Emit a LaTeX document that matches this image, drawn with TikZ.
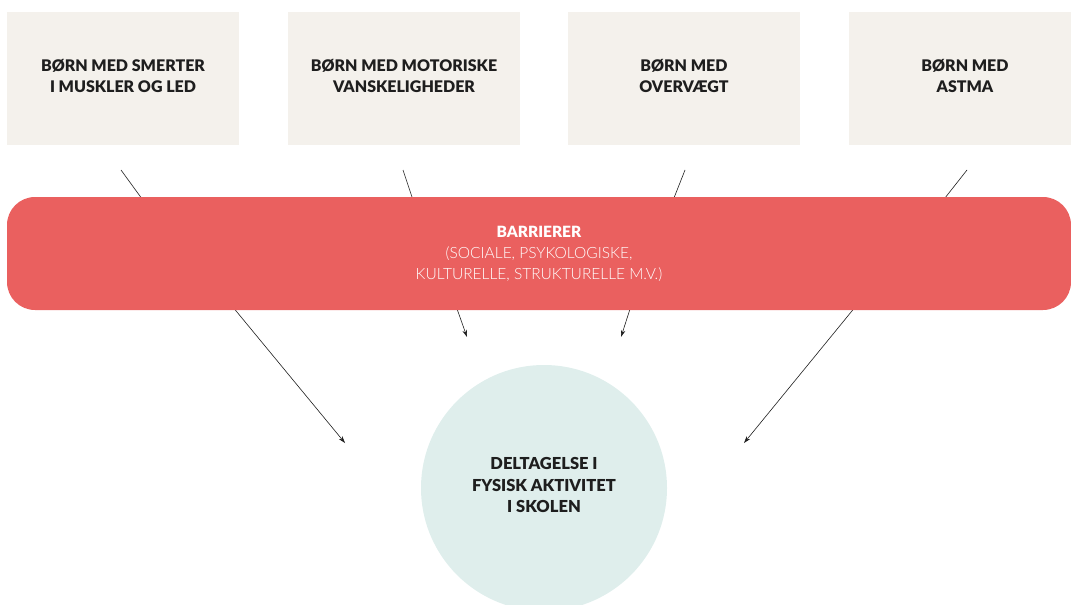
\documentclass[tikz,border=0pt]{standalone}
\usepackage{fontspec}
\setmainfont{Lato}
\newfontfamily\heavyfont{Lato Black}
\newfontfamily\lightfont{Lato Light}
\usetikzlibrary{arrows.meta}
\definecolor{boxfill}{HTML}{F4F1EC}
\definecolor{barfill}{HTML}{EA605F}
\definecolor{circfill}{HTML}{DFEEEC}
\definecolor{ink}{HTML}{1E1E1E}
\tikzset{
  groupbox/.style={fill=boxfill, draw=none, minimum width=232pt, minimum height=133pt,
    inner sep=0pt},
  boxtext/.style={align=center, text=ink, inner sep=0pt, yshift=3pt,
    font=\fontsize{16}{21}\selectfont\heavyfont},
  barbox/.style={fill=barfill, draw=none, rounded corners=28pt, minimum width=1064pt,
    minimum height=113pt, inner sep=0pt, align=center, text=white,
    font=\fontsize{15.5}{21}\selectfont\lightfont},
  goal/.style={circle, fill=circfill, draw=none, minimum size=246pt, inner sep=0pt},
  goaltext/.style={align=center, text=ink, inner sep=0pt, yshift=3pt,
    font=\fontsize{16.5}{21.5}\selectfont\heavyfont},
  conn/.style={draw=ink, line width=0.6pt},
  arr/.style={conn, -{Stealth[length=7pt,width=4.5pt]}}
}
\begin{document}
\begin{tikzpicture}[x=1pt,y=-1pt]
\useasboundingbox (0,0) rectangle (1071,605);
% top boxes
\node[groupbox, label={[name=b1t, boxtext]center:BØRN MED SMERTER\\I MUSKLER OG LED}] (b1) at (123,78.5) {};
\node[groupbox, label={[name=b2t, boxtext]center:BØRN MED MOTORISKE\\VANSKELIGHEDER}] (b2) at (404,78.5) {};
\node[groupbox, label={[name=b3t, boxtext]center:BØRN MED\\OVERVÆGT}] (b3) at (684,78.5) {};
\node[groupbox, label={[name=b4t, boxtext]center:BØRN MED\\ASTMA}] (b4) at (965,78.5) {};
% lines from boxes to barrier (drawn first, barrier covers ends)
\coordinate (s1) at (121,170); \coordinate (e1) at (145,203);
\coordinate (s2) at (403,170); \coordinate (e2) at (414,203);
\coordinate (s3) at (685,170); \coordinate (e3) at (672,203);
\coordinate (s4) at (967,170); \coordinate (e4) at (941,203);
\draw[conn] (s1) -- (e1);
\draw[conn] (s2) -- (e2);
\draw[conn] (s3) -- (e3);
\draw[conn] (s4) -- (e4);
% goal circle
\node[goal, label={[name=gt, goaltext]center:DELTAGELSE I\\FYSISK AKTIVITET\\I SKOLEN}] (g) at (544,488) {};
% arrows from barrier
\coordinate (f1) at (232,306); \coordinate (t1) at (345,443);
\coordinate (f2) at (456,306); \coordinate (t2) at (467,337);
\coordinate (f3) at (631,306); \coordinate (t3) at (621,337);
\coordinate (f4) at (856,306); \coordinate (t4) at (744,443);
\draw[arr] (f1) -- (t1);
\draw[arr] (f2) -- (t2);
\draw[arr] (f3) -- (t3);
\draw[arr] (f4) -- (t4);
% barrier
\node[barbox] (bar) at (539,253.5) {{\heavyfont BARRIERER}\\(SOCIALE, PSYKOLOGISKE,\\KULTURELLE, STRUKTURELLE M.V.)};
\end{tikzpicture}
\end{document}
